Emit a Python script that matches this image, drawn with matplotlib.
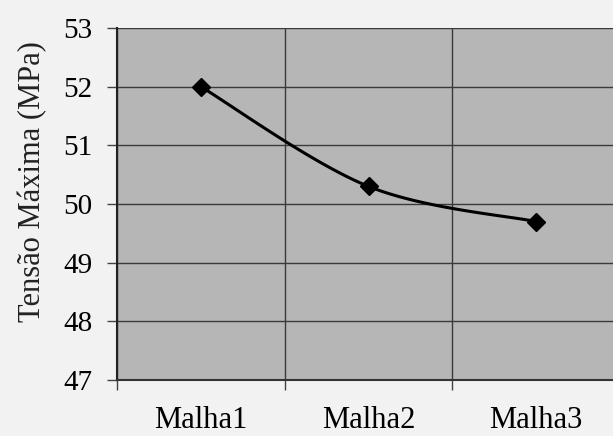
import matplotlib.pyplot as plt
import numpy as np

# Dados
categorias = ['Malha1', 'Malha2', 'Malha3']
tensao = [52.0, 50.3, 49.7]
yticks = [47, 48, 49, 50, 51, 52, 53]

plt.rcParams['font.family'] = ['Liberation Serif', 'DejaVu Serif']

# Curva suavizada (Bezier tipo Excel) entre os pontos
def suavizar(xs, ys, n=40):
    pts = np.column_stack([xs, ys]).astype(float)
    out = [pts[0]]
    for i in range(len(pts) - 1):
        p0 = pts[i - 1] if i > 0 else pts[i]
        p1 = pts[i]
        p2 = pts[i + 1]
        p3 = pts[i + 2] if i + 2 < len(pts) else pts[i + 1]
        c1 = p1 + (p2 - p0) / 6
        c2 = p2 - (p3 - p1) / 6
        t = np.linspace(0, 1, n)[1:, None]
        seg = (1 - t) ** 3 * p1 + 3 * (1 - t) ** 2 * t * c1 + 3 * (1 - t) * t ** 2 * c2 + t ** 3 * p2
        out.extend(seg)
    out = np.array(out)
    return out[:, 0], out[:, 1]

x = np.arange(1, len(categorias) + 1)
xs, ys = suavizar(x, tensao)

fig = plt.figure(figsize=(6.13, 4.36), dpi=100, facecolor='#f2f2f2')
ax = fig.add_axes([117 / 613, 56 / 436, 503 / 613, 352 / 436])
ax.set_facecolor('#b6b6b6')

ax.plot(xs, ys, color='black', lw=2.2)
ax.plot(x, tensao, linestyle='none', marker='D', color='black', markersize=9)

ax.set_xlim(0.5, 3.5)
ax.set_ylim(47, 53)
ax.set_yticks(yticks)
ax.set_xticks([0.5, 1.5, 2.5])
ax.set_xticklabels([])
ax.set_xticks(x, minor=True)
ax.set_xticklabels(categorias, minor=True, fontsize=22)
ax.tick_params(axis='x', which='minor', length=0, pad=19)
ax.tick_params(axis='x', which='major', length=7, width=1, color='#444444')
ax.tick_params(axis='y', length=7.5, width=1, labelsize=21, pad=10, color='#444444')

ax.grid(True, which='major', color='#3a3a3a', lw=1)
ax.set_axisbelow(True)
for s in ['top', 'right']:
    ax.spines[s].set_visible(False)
ax.spines['left'].set_color('#222222')
ax.spines['left'].set_linewidth(1.5)
ax.spines['bottom'].set_color('#333333')
ax.spines['bottom'].set_linewidth(1.5)

ax.set_ylabel('Tensão Máxima (MPa)', fontsize=22, color='#222222')
ax.yaxis.set_label_coords(-0.139, 0.565)

fig.savefig('out.png', dpi=100, facecolor=fig.get_facecolor())
